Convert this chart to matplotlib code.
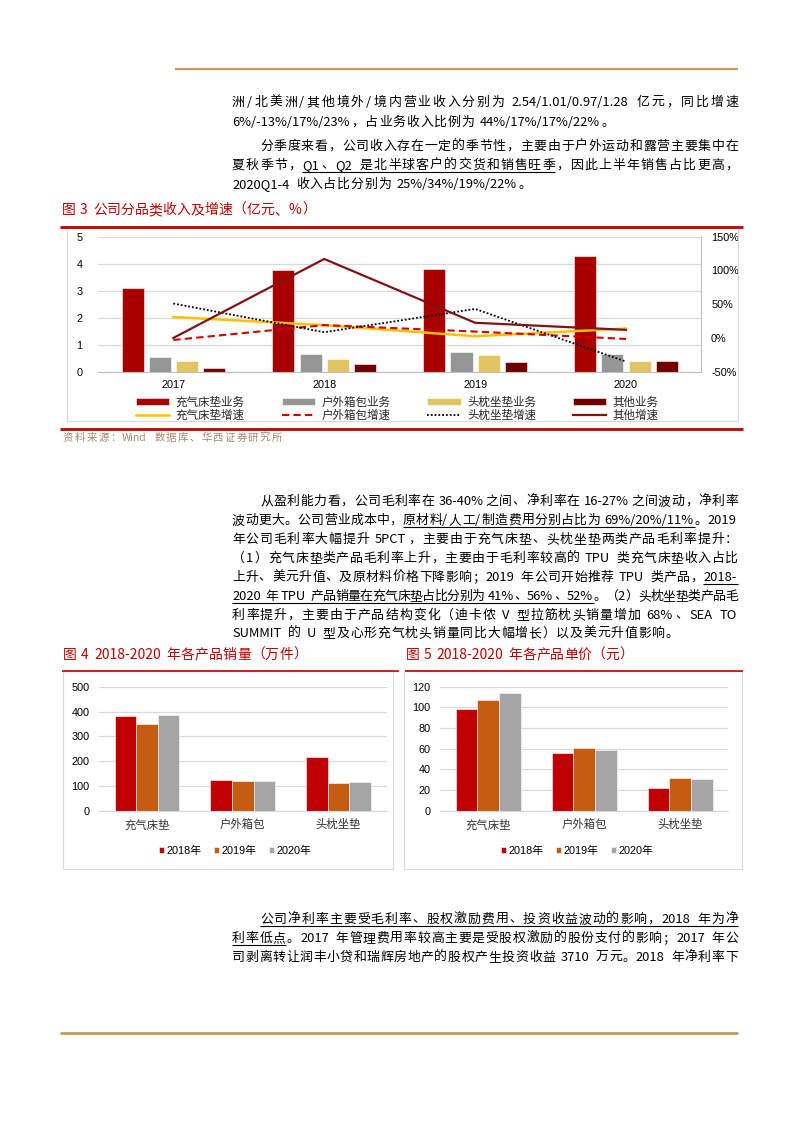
import matplotlib
matplotlib.use("Agg")
import matplotlib.pyplot as plt
import matplotlib.ticker as mticker
from matplotlib.font_manager import FontProperties
from matplotlib.lines import Line2D
from matplotlib.patches import Rectangle
import numpy as np

W, H = 793, 1122

# ---- figure 3: revenue by category (100m CNY) and growth (%) ----
years = ["2017", "2018", "2019", "2020"]
rev_mattress = [3.11, 3.75, 3.80, 4.30]
rev_outdoor = [0.53, 0.64, 0.72, 0.67]
rev_pillow = [0.41, 0.46, 0.63, 0.40]
rev_other = [0.12, 0.27, 0.35, 0.38]
growth_mattress = [31, 19, 2.5, 14]
growth_outdoor = [-3, 19, 9.5, -1.5]
growth_pillow = [51, 8.5, 43, -35]
growth_other = [0, 117, 22.5, 12]

# ---- figures 4 / 5: volume (10k pcs) and unit price (CNY) ----
products = ["充气床垫", "户外箱包", "头枕坐垫"]
year_labels = ["2018年", "2019年", "2020年"]
volume_2018 = [381, 122, 215]
volume_2019 = [351, 118, 110]
volume_2020 = [385, 121, 114]
price_2018 = [98, 55.5, 22]
price_2019 = [107, 61, 31.5]
price_2020 = [113.5, 58.5, 30.3]

# ---- body text ({...} = underlined) ----
para1 = [
    "洲/北美洲/其他境外/境内营业收入分别为 2.54/1.01/0.97/1.28 亿元，同比增速",
    "6%/-13%/17%/23%，占业务收入比例为 44%/17%/17%/22%。",
]
para2 = [
    "分季度来看，公司收入存在一定的季节性，主要由于户外运动和露营主要集中在",
    "夏秋季节，{Q1、Q2 是北半球客户的交货和销售旺季}，因此上半年销售占比更高，",
    "2020Q1-4 收入占比分别为 25%/34%/19%/22%。",
]
para3 = [
    "从盈利能力看，公司毛利率在 36-40%之间、净利率在 16-27%之间波动，净利率",
    "波动更大。公司营业成本中，{原材料/人工/制造费用分别占比为 69%/20%/11%}。2019",
    "年公司毛利率大幅提升 5PCT，主要由于充气床垫、头枕坐垫两类产品毛利率提升：",
    "（1）充气床垫类产品毛利率上升，主要由于毛利率较高的 TPU 类充气床垫收入占比",
    "上升、美元升值、及原材料价格下降影响；2019 年公司开始推荐 TPU 类产品，{2018-}",
    "{2020 年 TPU 产品销量在充气床垫占比分别为 41%、56%、52%}。（2）头枕坐垫类产品毛",
    "利率提升，主要由于产品结构变化（迪卡侬 V 型拉筋枕头销量增加 68%、SEA TO",
    "SUMMIT 的 U 型及心形充气枕头销量同比大幅增长）以及美元升值影响。",
]
para4 = [
    "{公司净利率主要受毛利率、股权激励费用、投资收益波动的影响，2018 年为净}",
    "{利率低点}。2017 年管理费用率较高主要是受股权激励的股份支付的影响；2017 年公",
    "司剥离转让润丰小贷和瑞辉房地产的股权产生投资收益 3710 万元。2018 年净利率下",
]

CJK = ["Noto Sans CJK SC", "DejaVu Sans"]
NUM = ["Liberation Sans", "Noto Sans CJK SC", "DejaVu Sans"]
RED = "#C00000"
GOLD = "#C99A5B"
GRID = "#D9D9D9"

fig = plt.figure(figsize=(W / 100, H / 100), dpi=100)
renderer = fig.canvas.get_renderer()


def fx(x):
    return x / W


def fy(y):
    return 1 - y / H


def hline(x0, x1, y, color, lw):
    fig.add_artist(Line2D([fx(x0), fx(x1)], [fy(y), fy(y)], color=color, lw=lw,
                          transform=fig.transFigure, solid_capstyle="butt"))


def box(x0, y0, x1, y1):
    fig.add_artist(Rectangle((fx(x0), fy(y1)), fx(x1) - fx(x0), fy(y0) - fy(y1),
                             fill=False, ec=GRID, lw=0.8, transform=fig.transFigure))


def split_tokens(s):
    toks, buf, under = [], "", False
    for ch in s:
        if ch in "{} " or ord(ch) >= 128:
            if buf:
                toks.append((buf, under))
                buf = ""
            if ch == "{":
                under = True
            elif ch == "}":
                under = False
            else:
                toks.append((ch, under))
        else:
            buf += ch
    if buf:
        toks.append((buf, under))
    return toks


def text_line(s, x0, y, x1=None, size=9.3, color="black", gap=0.8, space=4):
    """Draw one line token by token; stretch to x1 when given (justified)."""
    fp = FontProperties(family=CJK, size=size)
    em = size * 100 / 72
    toks = split_tokens(s)
    widths = []
    for t, _ in toks:
        if t == " ":
            widths.append(space)
        elif ord(t[0]) < 128:
            w, _, _ = renderer.get_text_width_height_descent(t, fp, ismath=False)
            widths.append(w + 1.2)
        else:
            widths.append(em)
    if x1 is not None and len(toks) > 1:
        gap = (x1 - x0 - sum(widths)) / (len(toks) - 1)
    base = y + 0.37 * em
    x = x0
    seg = None
    for (t, under), w in zip(toks, widths):
        if t != " ":
            if t in "（“《":
                fig.text(fx(x + w), fy(base), t, fontproperties=fp, color=color,
                         ha="right", va="baseline")
            else:
                fig.text(fx(x), fy(base), t, fontproperties=fp, color=color,
                         ha="left", va="baseline")
        if under:
            seg = [x, x + w] if seg is None else [seg[0], x + w]
        elif seg is not None:
            hline(seg[0], seg[1], base + 3, "black", 0.8)
            seg = None
        x += w + gap
    if seg is not None:
        hline(seg[0], seg[1], base + 3, "black", 0.8)


def paragraph(lines, ys, first_x=260, left=232, right=738, ends=True):
    # ends=False: paragraph runs on to the next page, so its last line is justified too
    for i, (s, y) in enumerate(zip(lines, ys)):
        x0 = first_x if i == 0 else left
        last = ends and i == len(lines) - 1
        text_line(s, x0, y, None if last else right)


# ---- page decoration ----
hline(175, 738, 69, GOLD, 1.6)
hline(60, 738, 1033, GOLD, 2.0)

paragraph(para1, [101, 121], first_x=232)
paragraph(para2, [145, 164, 183])
paragraph(para3, [500, 519, 538, 557, 576, 595, 614, 632])
paragraph(para4, [918, 937, 956], ends=False)

# ---- figure 3 ----
text_line("图 3 公司分品类收入及增速（亿元、%）", 62, 209, 316, size=10, color=RED)
box(67, 227, 738, 421)
hline(60, 743, 227, RED, 2.0)
hline(60, 743, 429, RED, 2.0)
text_line("资料来源：Wind 数据库、华西证券研究所", 63, 437, 282, size=7.5, color="#A08C70")

ax = fig.add_axes([fx(97.9), fy(371.7), (701.4 - 97.9) / W, (371.7 - 236.7) / H])
xs = np.arange(len(years))
bar_series = [
    (rev_mattress, "充气床垫业务", "#A80000"),
    (rev_outdoor, "户外箱包业务", "#969696"),
    (rev_pillow, "头枕坐垫业务", "#E3C462"),
    (rev_other, "其他业务", "#700000"),
]
bar_handles = []
for (vals, label, c), off in zip(bar_series, [-0.27, -0.09, 0.09, 0.27]):
    bar_handles.append(ax.bar(xs + off, vals, 0.146, color=c, label=label,
                              edgecolor="white", linewidth=0.4, zorder=2))
ax.set_xlim(-0.5, 3.5)
ax.set_ylim(0, 5)
ax.set_yticks(range(6))
ax.set_xticks(xs, years)
ax.grid(axis="y", color=GRID, lw=0.9)
ax.set_axisbelow(True)
for s in ["top", "left", "right"]:
    ax.spines[s].set_visible(False)
ax.spines["bottom"].set_color("#BFBFBF")
ax.tick_params(length=0, labelsize=7.8)
ax.tick_params(axis="y", pad=11)
ax.tick_params(axis="x", pad=6)

ax2 = ax.twinx()
ax2.set_ylim(-50, 150)
ax2.set_yticks(range(-50, 151, 50))
ax2.yaxis.set_major_formatter(mticker.FuncFormatter(lambda v, _: f"{v:.0f}%"))
for s in ["top", "left", "bottom"]:
    ax2.spines[s].set_visible(False)
ax2.spines["right"].set_color("#BFBFBF")
ax2.tick_params(length=0, labelsize=7.8, pad=7)
for a in (ax, ax2):
    for lab in a.get_xticklabels() + a.get_yticklabels():
        lab.set_fontfamily(NUM)

line_handles = [
    ax2.plot(xs, growth_mattress, color="#FFC000", lw=1.8, label="充气床垫增速")[0],
    ax2.plot(xs, growth_outdoor, color="#D40000", lw=1.5, ls=(0, (3.5, 2)), label="户外箱包增速")[0],
    ax2.plot(xs, growth_pillow, color="black", lw=1.3, ls=(0, (1, 1.1)), label="头枕坐垫增速")[0],
    ax2.plot(xs, growth_other, color="#7F1416", lw=1.6, label="其他增速")[0],
]
handles = [h for pair in zip(bar_handles, line_handles) for h in pair]
fig.legend(handles, [h.get_label() for h in handles], ncol=4, loc="upper left",
           bbox_to_anchor=(fx(136), fy(396)), frameon=False,
           prop=FontProperties(family=CJK, size=8.3), labelcolor="#262626",
           handlelength=2.9, handleheight=0.55, handletextpad=0.55,
           columnspacing=3.2, labelspacing=0.0, borderpad=0, borderaxespad=0)

# ---- figures 4 and 5 ----
year_colors = ["#C00000", "#C55A11", "#A5A5A5"]


def product_chart(x0, x1, data, ymax, step, legend_x):
    ax = fig.add_axes([fx(x0), fy(810.7), (x1 - x0) / W, 124 / H])
    px = np.arange(len(products))
    for vals, lab, c, off in zip(data, year_labels, year_colors, [-0.225, 0, 0.225]):
        ax.bar(px + off, vals, 0.225, color=c, label=lab, edgecolor="white",
               linewidth=0.4, zorder=2)
    ax.set_xlim(-0.5, 2.5)
    ax.set_ylim(0, ymax)
    ax.set_yticks(np.arange(0, ymax + 1, step))
    ax.set_xticks(px, products)
    ax.grid(axis="y", color=GRID, lw=0.9)
    ax.set_axisbelow(True)
    for s in ["top", "left", "right"]:
        ax.spines[s].set_visible(False)
    ax.spines["bottom"].set_color(GRID)
    ax.tick_params(length=0)
    ax.tick_params(axis="y", pad=7, labelsize=7.8)
    ax.tick_params(axis="x", pad=6)
    for lab in ax.get_yticklabels():
        lab.set_fontfamily(NUM)
    for lab in ax.get_xticklabels():
        lab.set_fontfamily(CJK)
        lab.set_fontsize(8.2)
        lab.set_color("#333333")
    ax.legend(ncol=3, loc="center left", bbox_to_anchor=(fx(legend_x), fy(851)),
              bbox_transform=fig.transFigure, frameon=False,
              prop=FontProperties(family=NUM, size=7.8),
              handlelength=0.48, handleheight=0.48, handletextpad=0.25,
              columnspacing=1.1, borderpad=0, borderaxespad=0)
    return ax


box(62.7, 671, 393, 869)
box(404, 671, 742, 869)
hline(62, 399, 670.7, RED, 1.2)
hline(405, 743, 670.7, RED, 1.2)
text_line("图 4 2018-2020 年各产品销量（万件）", 63, 654, 307, size=10, color=RED)
text_line("图 5 2018-2020 年各产品单价（元）", 406, 654, 633, size=10, color=RED)

product_chart(99, 386.5, [volume_2018, volume_2019, volume_2020], 500, 100, 159)
product_chart(440.2, 728.2, [price_2018, price_2019, price_2020], 120, 20, 501)

fig.savefig("out.png", dpi=100)
